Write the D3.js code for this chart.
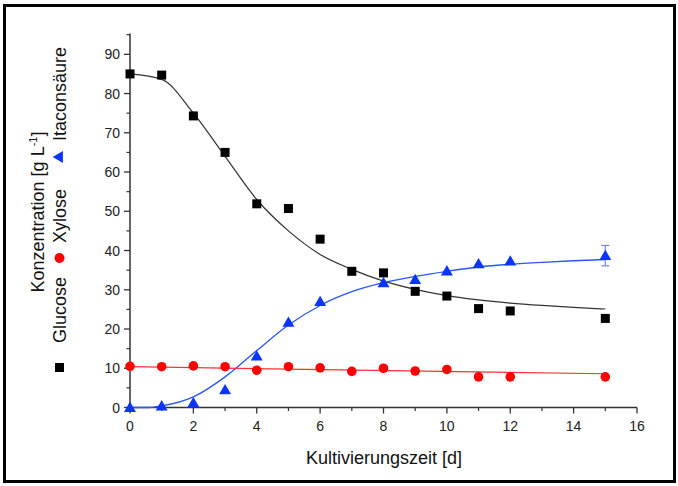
<!DOCTYPE html>
<html><head><meta charset="utf-8">
<script src="https://cdn.jsdelivr.net/npm/d3@7"></script>
<style>body{margin:0;background:#fff}svg{display:block}text{font-family:Arial,"Liberation Sans",sans-serif}</style>
</head><body><svg id="c" width="678" height="486"></svg>
<script>
// data
const days = [0,1,2,3,4,5,6,7,8,9,10,11,12,15];
const glucose = [85,84.7,74.3,65,51.9,50.7,42.9,34.7,34.3,29.6,28.4,25.2,24.6,22.7];
const xylose  = [10.5,10.4,10.6,10.4,9.5,10.4,10.1,9.2,10.0,9.3,9.7,7.8,7.8,7.8];
const itaDays = [0,1,2,3,4,5,6,8,9,10,11,12,15];
const itacon  = [0,0.4,1.2,4.5,13.1,21.7,27.0,31.8,32.6,34.8,36.6,37.3,38.7];
const itaErr  = [0,0,0,0,0,0,0,0,0,0,0,0,2.6];
// fitted curves
const fitX_glc = [0,1,2,3,4,5,6,7,8,9,10,11,12,13,14,15];
const fitY_glc = [85,83.6,75,64,53,45,39,35.2,32.2,30.1,28.5,27.4,26.6,26,25.5,25.1];
const fitX_ita = [0,0.6,1,2,3,4,5,6,7,8,9,10,11,12,13,14,15];
const fitY_ita = [0,0,0.4,2.7,7.8,14.5,21,26,29.5,31.8,33.4,34.7,35.8,36.5,37,37.4,37.7];
const fitX_xyl = [0,15];
const fitY_xyl = [10.4,8.6];
const xTicks = [0,2,4,6,8,10,12,14,16];
const yTicks = [0,10,20,30,40,50,60,70,80,90];

const svg = d3.select('#c');
svg.append('rect').attr('x',4.5).attr('y',5.5).attr('width',670).attr('height',476)
  .attr('fill','none').attr('stroke','#000').attr('stroke-width',3);

const x = d3.scaleLinear().domain([0,16]).range([130,637]);
const y = d3.scaleLinear().domain([0,95.3]).range([407.5,33.5]);

const axCol = '#333';
// x axis
const gx = svg.append('g').attr('transform','translate(0,407.5)');
gx.append('line').attr('x1',x(0)).attr('x2',x(16)).attr('stroke',axCol).attr('stroke-width',1.5);
gx.selectAll('.mj').data(xTicks).join('line').attr('x1',d=>x(d)).attr('x2',d=>x(d)).attr('y1',0).attr('y2',6).attr('stroke',axCol).attr('stroke-width',1.3);
gx.selectAll('.mn').data(d3.range(1,16,2)).join('line').attr('x1',d=>x(d)).attr('x2',d=>x(d)).attr('y1',0).attr('y2',3.5).attr('stroke',axCol).attr('stroke-width',1.2);
gx.selectAll('text').data(xTicks).join('text').attr('x',d=>x(d)).attr('y',23).attr('text-anchor','middle')
  .attr('font-size',14).attr('fill','#222').text(d=>d);
// y axis
const gy = svg.append('g').attr('transform','translate(130,0)');
gy.append('line').attr('y1',y(0)).attr('y2',y(95.3)).attr('stroke',axCol).attr('stroke-width',1.5);
gy.selectAll('.mj').data(yTicks).join('line').attr('y1',d=>y(d)).attr('y2',d=>y(d)).attr('x1',0).attr('x2',-6).attr('stroke',axCol).attr('stroke-width',1.3);
gy.selectAll('.mn').data(d3.range(5,96,10)).join('line').attr('y1',d=>y(d)).attr('y2',d=>y(d)).attr('x1',0).attr('x2',-3.5).attr('stroke',axCol).attr('stroke-width',1.2);
gy.selectAll('text').data(yTicks).join('text').attr('x',-10).attr('y',d=>y(d)+5).attr('text-anchor','end')
  .attr('font-size',14).attr('fill','#222').text(d=>d);

// titles
svg.append('text').attr('x',384).attr('y',464).attr('text-anchor','middle').attr('font-size',18).attr('fill','#111').text('Kultivierungszeit [d]');
const yl = svg.append('text').attr('transform','translate(44,212) rotate(-90)').attr('text-anchor','middle').attr('font-size',18).attr('fill','#111');
yl.append('tspan').text('Konzentration [g L');
yl.append('tspan').attr('font-size',11).attr('dy',-7).text('-1');
yl.append('tspan').attr('dy',7).text(']');

// legend column (rotated)
const lx = 66;
svg.append('rect').attr('x',lx-11).attr('y',363).attr('width',9).attr('height',9).attr('fill','#000');
svg.append('text').attr('transform',`translate(${lx},343) rotate(-90)`).attr('font-size',18).attr('fill','#111').text('Glucose');
svg.append('circle').attr('cx',lx-6.5).attr('cy',258).attr('r',5).attr('fill','#ff0000');
svg.append('text').attr('transform',`translate(${lx},243) rotate(-90)`).attr('font-size',18).attr('fill','#111').text('Xylose');
svg.append('path').attr('d',d3.symbol(d3.symbolTriangle,60)()).attr('transform',`translate(${lx-6.5},157) rotate(-90)`).attr('fill','#0a35ff');
svg.append('text').attr('transform',`translate(${lx},141) rotate(-90)`).attr('font-size',18).attr('fill','#111').text('Itaconsäure');

// fit lines
const line = d3.line().x(d=>x(d[0])).y(d=>y(d[1])).curve(d3.curveMonotoneX);
svg.append('path').attr('d',line(d3.zip(fitX_glc,fitY_glc))).attr('fill','none').attr('stroke','#333').attr('stroke-width',1.2);
svg.append('path').attr('d',line(d3.zip(fitX_ita,fitY_ita))).attr('fill','none').attr('stroke','#2a55ff').attr('stroke-width',1.3);
svg.append('path').attr('d',d3.line().x(d=>x(d[0])).y(d=>y(d[1]))(d3.zip(fitX_xyl,fitY_xyl))).attr('fill','none').attr('stroke','#ff3030').attr('stroke-width',1.2);

// error bars
const eb = d3.zip(itaDays,itacon,itaErr).filter(d=>d[2]>0);
const ge = svg.append('g').attr('stroke','#6f86ff').attr('stroke-width',1.2);
eb.forEach(d=>{
  ge.append('line').attr('x1',x(d[0])).attr('x2',x(d[0])).attr('y1',y(d[1]-d[2])).attr('y2',y(d[1]+d[2]));
  ge.append('line').attr('x1',x(d[0])-4).attr('x2',x(d[0])+4).attr('y1',y(d[1]-d[2])).attr('y2',y(d[1]-d[2]));
  ge.append('line').attr('x1',x(d[0])-4).attr('x2',x(d[0])+4).attr('y1',y(d[1]+d[2])).attr('y2',y(d[1]+d[2]));
});

// points
svg.append('g').selectAll('rect').data(d3.zip(days,glucose)).join('rect')
  .attr('x',d=>x(d[0])-4.5).attr('y',d=>y(d[1])-4.5).attr('width',9).attr('height',9).attr('fill','#000');
svg.append('g').selectAll('circle').data(d3.zip(days,xylose)).join('circle')
  .attr('cx',d=>x(d[0])).attr('cy',d=>y(d[1])).attr('r',4.8).attr('fill','#ff0000');
svg.append('g').selectAll('path').data(d3.zip(itaDays,itacon)).join('path')
  .attr('d',d3.symbol(d3.symbolTriangle,62)()).attr('transform',d=>`translate(${x(d[0])},${y(d[1])+1})`).attr('fill','#0a35ff');
</script></body></html>
